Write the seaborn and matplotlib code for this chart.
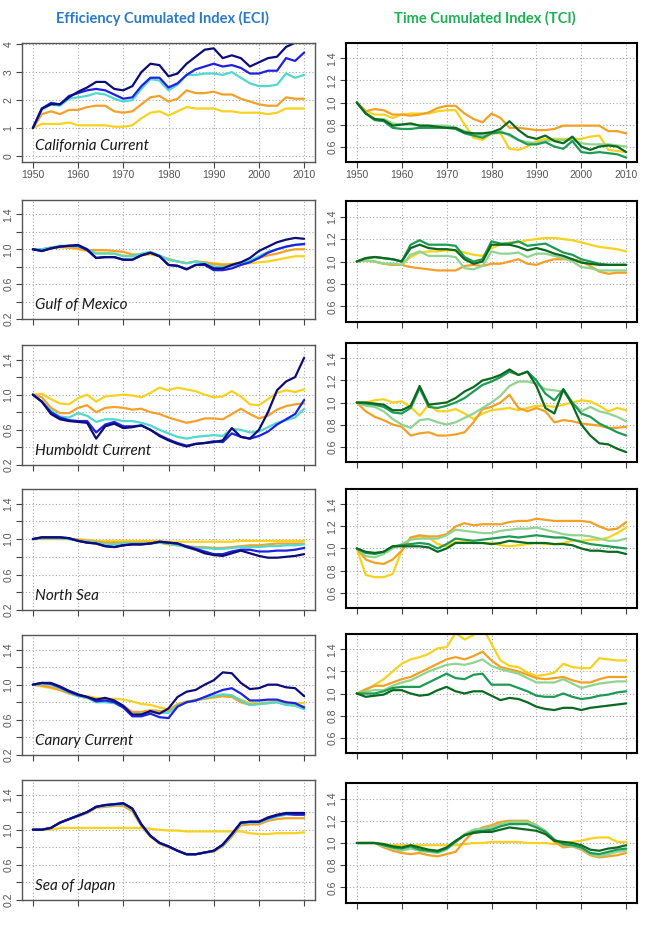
import pandas as pd
import matplotlib
matplotlib.use('Agg')
import matplotlib.pyplot as plt
import seaborn as sns

sns.set_theme(style='white')
plt.rcParams['font.family'] = ['Liberation Sans', 'DejaVu Sans']

years = list(range(1950, 2011, 2))

# ECI: s1 navy, s2 blue, s3 turquoise, s4 orange, s5 gold
# TCI: t1 yellow, t2 orange, t3 light green, t4 green, t5 dark green

# California Current
cal_s1 = [1.0, 1.7, 1.85, 1.85, 2.1, 2.3, 2.45, 2.65, 2.65, 2.4, 2.35, 2.5, 3.0, 3.3, 3.25, 2.85, 2.95, 3.3, 3.55, 3.8, 3.85, 3.5, 3.6, 3.5, 3.2, 3.35, 3.5, 3.55, 3.9, 4.05, 4.35]
cal_s2 = [1.0, 1.7, 1.9, 1.85, 2.15, 2.25, 2.35, 2.4, 2.35, 2.2, 2.05, 2.1, 2.5, 2.8, 2.8, 2.45, 2.6, 2.9, 3.1, 3.2, 3.3, 3.2, 3.25, 3.15, 2.95, 2.95, 3.05, 3.05, 3.5, 3.4, 3.7]
cal_s3 = [1.0, 1.65, 1.85, 1.8, 2.05, 2.1, 2.15, 2.25, 2.2, 2.05, 1.95, 2.0, 2.4, 2.75, 2.7, 2.35, 2.55, 2.9, 2.9, 2.95, 2.95, 2.9, 3.0, 2.8, 2.6, 2.5, 2.5, 2.55, 2.95, 2.8, 2.9]
cal_s4 = [1.0, 1.5, 1.6, 1.5, 1.65, 1.65, 1.75, 1.8, 1.8, 1.6, 1.55, 1.6, 1.85, 2.1, 2.15, 1.95, 2.05, 2.35, 2.25, 2.25, 2.3, 2.2, 2.2, 2.05, 1.95, 1.85, 1.8, 1.8, 2.1, 2.05, 2.05]
cal_s5 = [1.0, 1.15, 1.15, 1.15, 1.2, 1.1, 1.1, 1.1, 1.1, 1.05, 1.05, 1.1, 1.35, 1.55, 1.6, 1.45, 1.6, 1.75, 1.7, 1.7, 1.7, 1.6, 1.6, 1.55, 1.55, 1.55, 1.5, 1.55, 1.7, 1.7, 1.7]
cal_t1 = [1.0, 0.92, 0.89, 0.89, 0.86, 0.89, 0.9, 0.9, 0.9, 0.92, 0.93, 0.93, 0.8, 0.68, 0.66, 0.72, 0.72, 0.58, 0.57, 0.6, 0.65, 0.67, 0.67, 0.67, 0.67, 0.67, 0.69, 0.7, 0.57, 0.56, 0.55]
cal_t2 = [1.0, 0.92, 0.94, 0.93, 0.89, 0.89, 0.88, 0.89, 0.91, 0.95, 0.97, 0.97, 0.9, 0.85, 0.82, 0.9, 0.86, 0.77, 0.77, 0.76, 0.75, 0.75, 0.76, 0.79, 0.79, 0.79, 0.79, 0.79, 0.74, 0.74, 0.72]
cal_t3 = [1.0, 0.9, 0.85, 0.85, 0.81, 0.8, 0.8, 0.79, 0.79, 0.79, 0.79, 0.77, 0.74, 0.72, 0.7, 0.72, 0.74, 0.7, 0.66, 0.64, 0.63, 0.65, 0.66, 0.66, 0.66, 0.63, 0.62, 0.62, 0.62, 0.61, 0.6]
cal_t4 = [1.0, 0.9, 0.84, 0.83, 0.77, 0.76, 0.76, 0.77, 0.77, 0.77, 0.77, 0.76, 0.72, 0.7, 0.68, 0.72, 0.73, 0.71, 0.66, 0.62, 0.62, 0.64, 0.6, 0.58, 0.65, 0.55, 0.54, 0.55, 0.54, 0.53, 0.5]
cal_t5 = [1.0, 0.9, 0.85, 0.84, 0.79, 0.8, 0.81, 0.79, 0.79, 0.78, 0.77, 0.77, 0.73, 0.72, 0.72, 0.73, 0.76, 0.83, 0.75, 0.69, 0.67, 0.7, 0.65, 0.63, 0.69, 0.6, 0.57, 0.6, 0.61, 0.6, 0.55]

# Gulf of Mexico
gom_s1 = [1.0, 0.98, 1.01, 1.03, 1.04, 1.05, 1.0, 0.9, 0.91, 0.91, 0.88, 0.88, 0.93, 0.96, 0.92, 0.82, 0.81, 0.77, 0.82, 0.83, 0.78, 0.78, 0.82, 0.85, 0.9, 0.98, 1.03, 1.08, 1.11, 1.13, 1.12]
gom_s2 = [1.0, 0.98, 1.01, 1.03, 1.04, 1.04, 0.99, 0.9, 0.91, 0.91, 0.88, 0.88, 0.93, 0.96, 0.92, 0.82, 0.81, 0.77, 0.82, 0.82, 0.76, 0.76, 0.78, 0.82, 0.85, 0.9, 0.96, 1.0, 1.03, 1.05, 1.06]
gom_s3 = [1.0, 1.0, 1.02, 1.04, 1.04, 1.03, 1.0, 0.95, 0.95, 0.95, 0.92, 0.92, 0.95, 0.97, 0.93, 0.88, 0.86, 0.84, 0.86, 0.84, 0.8, 0.8, 0.81, 0.84, 0.87, 0.92, 0.97, 1.0, 1.03, 1.05, 1.06]
gom_s4 = [1.0, 1.0, 1.02, 1.03, 1.02, 1.01, 0.99, 0.99, 0.99, 0.98, 0.97, 0.94, 0.94, 0.96, 0.92, 0.89, 0.86, 0.84, 0.86, 0.85, 0.83, 0.82, 0.83, 0.85, 0.86, 0.9, 0.93, 0.95, 0.98, 1.0, 1.0]
gom_s5 = [1.0, 1.0, 1.01, 1.02, 1.02, 1.0, 0.98, 0.96, 0.96, 0.95, 0.93, 0.92, 0.93, 0.94, 0.92, 0.88, 0.86, 0.84, 0.86, 0.85, 0.84, 0.83, 0.82, 0.83, 0.84, 0.85, 0.86, 0.88, 0.9, 0.92, 0.92]
gom_t1 = [1.0, 1.01, 1.0, 0.98, 0.97, 0.97, 1.04, 1.08, 1.09, 1.09, 1.1, 1.1, 1.08, 1.06, 1.05, 1.12, 1.15, 1.17, 1.17, 1.19, 1.2, 1.21, 1.21, 1.2, 1.19, 1.17, 1.15, 1.13, 1.12, 1.11, 1.09]
gom_t2 = [1.0, 1.01, 1.0, 0.98, 0.97, 0.97, 0.95, 0.94, 0.93, 0.92, 0.92, 0.92, 0.96, 0.97, 0.96, 0.98, 0.98, 1.0, 1.02, 0.98, 0.97, 1.0, 1.02, 1.02, 1.02, 1.0, 0.96, 0.91, 0.89, 0.9, 0.9]
gom_t3 = [1.0, 1.01, 1.0, 0.98, 0.98, 0.97, 1.06, 1.09, 1.05, 1.05, 1.05, 1.04, 0.94, 0.93, 0.96, 1.09, 1.07, 1.07, 1.08, 1.04, 1.07, 1.07, 1.05, 1.03, 1.0, 0.95, 0.94, 0.92, 0.92, 0.92, 0.92]
gom_t4 = [1.0, 1.03, 1.04, 1.03, 1.02, 1.0, 1.15, 1.19, 1.15, 1.15, 1.15, 1.14, 1.04, 1.0, 1.02, 1.18, 1.16, 1.16, 1.18, 1.14, 1.15, 1.16, 1.12, 1.08, 1.06, 1.02, 1.0, 0.98, 0.97, 0.97, 0.97]
gom_t5 = [1.0, 1.03, 1.04, 1.03, 1.02, 1.0, 1.12, 1.15, 1.12, 1.11, 1.11, 1.1, 1.02, 0.98, 1.0, 1.15, 1.15, 1.15, 1.13, 1.1, 1.12, 1.1, 1.07, 1.05, 1.02, 0.99, 0.98, 0.97, 0.97, 0.97, 0.97]

# Humboldt Current
hum_s1 = [1.0, 0.92, 0.78, 0.72, 0.7, 0.69, 0.68, 0.5, 0.64, 0.67, 0.62, 0.63, 0.65, 0.6, 0.53, 0.48, 0.44, 0.41, 0.44, 0.45, 0.46, 0.48, 0.62, 0.52, 0.5, 0.6, 0.8, 1.05, 1.15, 1.2, 1.42]
hum_s2 = [1.0, 0.92, 0.8, 0.74, 0.71, 0.7, 0.7, 0.57, 0.66, 0.69, 0.64, 0.64, 0.65, 0.6, 0.54, 0.49, 0.45, 0.42, 0.44, 0.45, 0.47, 0.46, 0.56, 0.52, 0.5, 0.53, 0.58, 0.66, 0.72, 0.78, 0.94]
hum_s3 = [1.0, 0.92, 0.82, 0.75, 0.74, 0.79, 0.76, 0.69, 0.72, 0.72, 0.7, 0.7, 0.68, 0.65, 0.6, 0.56, 0.52, 0.5, 0.52, 0.53, 0.54, 0.53, 0.61, 0.6, 0.57, 0.58, 0.63, 0.68, 0.71, 0.74, 0.84]
hum_s4 = [1.0, 0.97, 0.85, 0.79, 0.79, 0.85, 0.88, 0.8, 0.85, 0.86, 0.85, 0.83, 0.84, 0.8, 0.78, 0.74, 0.71, 0.68, 0.7, 0.73, 0.73, 0.72, 0.78, 0.84, 0.78, 0.73, 0.76, 0.83, 0.87, 0.89, 0.9]
hum_s5 = [1.0, 1.01, 0.95, 0.9, 0.89, 0.96, 1.0, 0.92, 0.98, 0.99, 1.0, 0.99, 0.97, 1.02, 1.08, 1.05, 1.08, 1.06, 1.04, 1.0, 0.97, 0.98, 1.04, 0.98, 0.89, 0.88, 0.95, 1.02, 1.05, 1.03, 1.06]
hum_t1 = [1.0, 1.0, 1.02, 1.03, 1.0, 1.01, 0.96, 0.88, 0.98, 0.92, 0.92, 0.94, 0.9, 0.85, 0.9, 0.93, 0.94, 0.95, 0.93, 0.95, 0.97, 0.97, 0.96, 0.98, 1.0, 1.02, 1.01, 0.97, 0.92, 0.95, 0.93]
hum_t2 = [1.0, 0.92, 0.87, 0.84, 0.8, 0.78, 0.7, 0.72, 0.73, 0.7, 0.7, 0.71, 0.73, 0.82, 0.94, 0.96, 1.0, 1.07, 0.95, 0.92, 0.95, 0.92, 0.82, 0.84, 0.83, 0.81, 0.8, 0.79, 0.77, 0.77, 0.78]
hum_t3 = [1.0, 0.97, 0.96, 0.92, 0.85, 0.8, 0.77, 0.84, 0.85, 0.82, 0.8, 0.82, 0.86, 0.9, 0.95, 1.0, 1.06, 1.15, 1.19, 1.19, 1.17, 1.12, 1.11, 1.1, 1.0, 0.92, 0.96, 0.92, 0.9, 0.87, 0.83]
hum_t4 = [1.0, 0.99, 0.98, 0.96, 0.91, 0.9, 0.95, 1.13, 0.96, 0.95, 0.97, 1.0, 1.04, 1.1, 1.16, 1.19, 1.23, 1.28, 1.25, 1.28, 1.2, 1.08, 1.02, 1.12, 1.0, 0.9, 0.87, 0.81, 0.77, 0.73, 0.7]
hum_t5 = [1.0, 1.0, 0.99, 0.98, 0.93, 0.93, 0.97, 1.15, 0.98, 0.99, 1.0, 1.04, 1.1, 1.14, 1.2, 1.22, 1.25, 1.3, 1.25, 1.28, 1.15, 0.95, 0.9, 1.12, 0.98, 0.8, 0.7, 0.63, 0.62, 0.58, 0.55]

# North Sea
nsea_s1 = [1.0, 1.02, 1.02, 1.02, 1.01, 0.98, 0.96, 0.95, 0.92, 0.91, 0.93, 0.94, 0.94, 0.95, 0.97, 0.96, 0.95, 0.91, 0.88, 0.84, 0.82, 0.81, 0.84, 0.87, 0.84, 0.81, 0.79, 0.79, 0.8, 0.81, 0.83]
nsea_s2 = [1.0, 1.02, 1.02, 1.02, 1.01, 0.98, 0.96, 0.95, 0.92, 0.91, 0.93, 0.94, 0.94, 0.95, 0.97, 0.96, 0.95, 0.92, 0.89, 0.86, 0.83, 0.83, 0.86, 0.88, 0.88, 0.86, 0.86, 0.87, 0.87, 0.88, 0.9]
nsea_s3 = [1.0, 1.01, 1.01, 1.01, 1.0, 0.98, 0.97, 0.96, 0.94, 0.94, 0.95, 0.95, 0.95, 0.95, 0.96, 0.95, 0.93, 0.91, 0.9, 0.9, 0.89, 0.89, 0.9, 0.91, 0.91, 0.91, 0.92, 0.92, 0.93, 0.93, 0.94]
nsea_s4 = [1.0, 1.01, 1.01, 1.01, 1.0, 0.99, 0.98, 0.97, 0.96, 0.96, 0.96, 0.96, 0.96, 0.96, 0.96, 0.94, 0.93, 0.92, 0.91, 0.91, 0.9, 0.9, 0.91, 0.92, 0.93, 0.93, 0.94, 0.95, 0.95, 0.95, 0.95]
nsea_s5 = [1.0, 1.0, 1.0, 1.0, 1.0, 1.0, 0.99, 0.98, 0.98, 0.98, 0.98, 0.98, 0.98, 0.98, 0.98, 0.97, 0.97, 0.97, 0.97, 0.97, 0.97, 0.97, 0.97, 0.98, 0.98, 0.98, 0.98, 0.98, 0.98, 0.98, 0.98]
nsea_t1 = [1.0, 0.76, 0.74, 0.74, 0.77, 0.98, 1.1, 1.11, 1.1, 1.04, 1.02, 1.06, 1.06, 1.05, 1.05, 1.05, 1.03, 1.02, 1.03, 1.04, 1.05, 1.04, 1.04, 1.05, 1.07, 1.07, 1.08, 1.08, 1.1, 1.14, 1.19]
nsea_t2 = [1.0, 0.9, 0.87, 0.86, 0.9, 0.98, 1.1, 1.12, 1.11, 1.11, 1.13, 1.2, 1.23, 1.21, 1.22, 1.22, 1.22, 1.24, 1.25, 1.25, 1.27, 1.26, 1.25, 1.25, 1.25, 1.25, 1.24, 1.2, 1.17, 1.18, 1.24]
nsea_t3 = [1.0, 0.93, 0.92, 0.95, 1.0, 1.04, 1.08, 1.09, 1.09, 1.09, 1.12, 1.17, 1.16, 1.15, 1.14, 1.14, 1.16, 1.17, 1.18, 1.18, 1.19, 1.17, 1.15, 1.13, 1.12, 1.12, 1.11, 1.09, 1.07, 1.07, 1.09]
nsea_t4 = [1.0, 0.96, 0.95, 0.97, 1.02, 1.03, 1.04, 1.05, 1.04, 1.0, 1.04, 1.09, 1.08, 1.07, 1.08, 1.09, 1.1, 1.11, 1.1, 1.11, 1.12, 1.11, 1.1, 1.1, 1.08, 1.06, 1.04, 1.03, 1.02, 1.01, 1.0]
nsea_t5 = [1.0, 0.97, 0.96, 0.97, 1.02, 1.02, 1.02, 1.02, 1.01, 0.97, 1.0, 1.05, 1.05, 1.05, 1.05, 1.04, 1.05, 1.07, 1.06, 1.05, 1.05, 1.05, 1.04, 1.04, 1.03, 1.0, 0.98, 0.98, 0.97, 0.97, 0.95]

# Canary Current
can_s1 = [1.0, 1.02, 1.02, 0.98, 0.93, 0.89, 0.86, 0.83, 0.85, 0.82, 0.76, 0.66, 0.66, 0.7, 0.67, 0.73, 0.86, 0.92, 0.94, 1.0, 1.05, 1.14, 1.13, 1.02, 0.95, 0.96, 1.0, 1.0, 0.97, 0.96, 0.87]
can_s2 = [1.0, 1.02, 1.01, 0.97, 0.92, 0.88, 0.86, 0.81, 0.82, 0.8, 0.74, 0.64, 0.64, 0.67, 0.63, 0.62, 0.75, 0.8, 0.82, 0.86, 0.9, 0.94, 0.96, 0.9, 0.82, 0.82, 0.83, 0.83, 0.8, 0.79, 0.74]
can_s3 = [1.0, 1.01, 1.0, 0.96, 0.91, 0.87, 0.85, 0.8, 0.8, 0.79, 0.74, 0.66, 0.67, 0.69, 0.68, 0.68, 0.76, 0.8, 0.82, 0.85, 0.87, 0.89, 0.88, 0.82, 0.77, 0.78, 0.79, 0.8, 0.77, 0.76, 0.72]
can_s4 = [1.0, 0.99, 0.97, 0.94, 0.9, 0.87, 0.85, 0.83, 0.82, 0.81, 0.76, 0.69, 0.69, 0.71, 0.7, 0.7, 0.77, 0.81, 0.82, 0.84, 0.86, 0.87, 0.86, 0.8, 0.77, 0.78, 0.79, 0.8, 0.77, 0.77, 0.75]
can_s5 = [1.0, 0.98, 0.96, 0.94, 0.9, 0.88, 0.87, 0.85, 0.84, 0.84, 0.83, 0.81, 0.78, 0.77, 0.74, 0.72, 0.78, 0.8, 0.83, 0.84, 0.85, 0.87, 0.86, 0.83, 0.79, 0.79, 0.8, 0.81, 0.79, 0.79, 0.79]
can_t1 = [1.0, 1.03, 1.08, 1.13, 1.2, 1.27, 1.31, 1.33, 1.36, 1.41, 1.42, 1.55, 1.49, 1.53, 1.6, 1.45, 1.3, 1.25, 1.24, 1.19, 1.16, 1.17, 1.19, 1.27, 1.24, 1.23, 1.23, 1.32, 1.31, 1.3, 1.3]
can_t2 = [1.0, 1.04, 1.07, 1.07, 1.1, 1.13, 1.15, 1.19, 1.23, 1.27, 1.31, 1.33, 1.31, 1.34, 1.38, 1.3, 1.24, 1.22, 1.2, 1.17, 1.14, 1.13, 1.14, 1.15, 1.12, 1.1, 1.1, 1.13, 1.15, 1.15, 1.15]
can_t3 = [1.0, 1.02, 1.03, 1.03, 1.07, 1.1, 1.12, 1.16, 1.2, 1.23, 1.26, 1.27, 1.26, 1.28, 1.31, 1.25, 1.22, 1.2, 1.18, 1.14, 1.1, 1.1, 1.1, 1.13, 1.09, 1.05, 1.07, 1.09, 1.1, 1.11, 1.11]
can_t4 = [1.0, 1.0, 1.0, 1.02, 1.05, 1.06, 1.06, 1.06, 1.1, 1.14, 1.18, 1.14, 1.13, 1.17, 1.18, 1.08, 1.08, 1.08, 1.05, 1.02, 0.98, 0.97, 0.97, 1.0, 0.97, 0.95, 0.96, 0.98, 0.99, 1.01, 1.02]
can_t5 = [1.0, 0.97, 0.98, 0.99, 1.03, 1.03, 1.0, 0.98, 0.99, 1.03, 1.06, 1.02, 1.0, 1.02, 1.02, 0.98, 0.94, 0.96, 0.95, 0.92, 0.88, 0.86, 0.85, 0.87, 0.87, 0.85, 0.87, 0.88, 0.89, 0.9, 0.91]

# Sea of Japan
soj_s1 = [1.0, 1.0, 1.02, 1.08, 1.12, 1.16, 1.2, 1.26, 1.28, 1.29, 1.3, 1.24, 1.06, 0.93, 0.85, 0.81, 0.76, 0.72, 0.72, 0.74, 0.76, 0.83, 0.95, 1.08, 1.09, 1.09, 1.14, 1.17, 1.19, 1.19, 1.19]
soj_s2 = [1.0, 1.0, 1.02, 1.08, 1.12, 1.16, 1.2, 1.26, 1.28, 1.29, 1.3, 1.24, 1.06, 0.93, 0.85, 0.81, 0.76, 0.72, 0.72, 0.74, 0.76, 0.83, 0.95, 1.08, 1.09, 1.09, 1.13, 1.16, 1.18, 1.17, 1.17]
soj_s3 = [1.0, 1.0, 1.02, 1.08, 1.12, 1.16, 1.2, 1.26, 1.27, 1.28, 1.29, 1.23, 1.05, 0.93, 0.85, 0.81, 0.76, 0.72, 0.72, 0.74, 0.76, 0.82, 0.94, 1.07, 1.08, 1.08, 1.12, 1.15, 1.17, 1.17, 1.17]
soj_s4 = [1.0, 1.0, 1.02, 1.08, 1.12, 1.15, 1.19, 1.25, 1.26, 1.27, 1.27, 1.21, 1.04, 0.92, 0.84, 0.8, 0.76, 0.72, 0.72, 0.74, 0.75, 0.81, 0.92, 1.05, 1.06, 1.06, 1.1, 1.12, 1.13, 1.13, 1.13]
soj_s5 = [1.0, 1.0, 1.0, 1.02, 1.02, 1.02, 1.02, 1.02, 1.02, 1.02, 1.02, 1.02, 1.02, 1.01, 1.0, 0.99, 0.99, 0.98, 0.98, 0.98, 0.98, 0.98, 0.98, 0.98, 0.96, 0.95, 0.95, 0.96, 0.96, 0.96, 0.97]
soj_t1 = [1.0, 1.0, 1.0, 0.99, 0.98, 0.98, 0.98, 0.98, 0.98, 0.98, 0.98, 0.98, 0.99, 1.0, 1.0, 1.01, 1.01, 1.01, 1.01, 1.0, 1.0, 1.0, 0.99, 1.0, 1.01, 1.02, 1.04, 1.05, 1.05, 1.01, 1.01]
soj_t2 = [1.0, 1.0, 1.0, 0.96, 0.93, 0.91, 0.9, 0.91, 0.89, 0.88, 0.9, 0.92, 1.02, 1.1, 1.14, 1.16, 1.19, 1.2, 1.2, 1.2, 1.16, 1.1, 1.01, 0.96, 0.97, 0.94, 0.89, 0.87, 0.88, 0.89, 0.91]
soj_t3 = [1.0, 1.0, 1.0, 0.97, 0.95, 0.93, 0.95, 0.93, 0.92, 0.91, 0.94, 1.01, 1.08, 1.12, 1.13, 1.14, 1.17, 1.19, 1.19, 1.19, 1.16, 1.11, 1.03, 0.98, 0.97, 0.95, 0.9, 0.88, 0.9, 0.92, 0.93]
soj_t4 = [1.0, 1.0, 1.0, 0.98, 0.96, 0.95, 0.97, 0.94, 0.93, 0.92, 0.95, 1.01, 1.07, 1.1, 1.11, 1.12, 1.15, 1.17, 1.17, 1.17, 1.14, 1.1, 1.03, 0.99, 0.98, 0.96, 0.91, 0.9, 0.92, 0.94, 0.95]
soj_t5 = [1.0, 1.0, 1.0, 0.99, 0.97, 0.96, 0.98, 0.96, 0.94, 0.93, 0.96, 1.02, 1.07, 1.09, 1.1, 1.1, 1.12, 1.14, 1.13, 1.12, 1.11, 1.08, 1.02, 1.01, 1.0, 0.98, 0.94, 0.93, 0.95, 0.96, 0.98]

regions = ['California Current', 'Gulf of Mexico', 'Humboldt Current',
           'North Sea', 'Canary Current', 'Sea of Japan']
eci_data = [
    [cal_s1, cal_s2, cal_s3, cal_s4, cal_s5],
    [gom_s1, gom_s2, gom_s3, gom_s4, gom_s5],
    [hum_s1, hum_s2, hum_s3, hum_s4, hum_s5],
    [nsea_s1, nsea_s2, nsea_s3, nsea_s4, nsea_s5],
    [can_s1, can_s2, can_s3, can_s4, can_s5],
    [soj_s1, soj_s2, soj_s3, soj_s4, soj_s5],
]
tci_data = [
    [cal_t1, cal_t2, cal_t3, cal_t4, cal_t5],
    [gom_t1, gom_t2, gom_t3, gom_t4, gom_t5],
    [hum_t1, hum_t2, hum_t3, hum_t4, hum_t5],
    [nsea_t1, nsea_t2, nsea_t3, nsea_t4, nsea_t5],
    [can_t1, can_t2, can_t3, can_t4, can_t5],
    [soj_t1, soj_t2, soj_t3, soj_t4, soj_t5],
]

eci_names = ['s1', 's2', 's3', 's4', 's5']
tci_names = ['t1', 't2', 't3', 't4', 't5']
eci_colors = {'s1': '#0c0c7a', 's2': '#1e22e0', 's3': '#4fd9cf',
              's4': '#f4a12a', 's5': '#f7d21e'}
tci_colors = {'t1': '#f7d21e', 't2': '#f2a126', 't3': '#8fd490',
              't4': '#1e9a55', 't5': '#0b6a1f'}


def long_df(series, names):
    parts = []
    for name, vals in zip(names, series):
        parts.append(pd.DataFrame({'year': years, 'value': vals, 'series': name}))
    return pd.concat(parts, ignore_index=True)


# panel boxes in pixels (top, bottom)
left_rows = [(43, 162), (200, 319), (345, 465), (489, 610), (635, 755), (780, 900)]
right_rows = [(43, 162), (201, 322), (343, 462), (489, 608), (634, 753), (783, 903)]
W, H = 645, 925

fig = plt.figure(figsize=(6.45, 9.25), dpi=100)


def style_ax(ax, first_row, right):
    ax.set_xlim(1947.6, 2012.4)
    ax.set_xticks(range(1950, 2011, 10))
    if first_row:
        ax.set_xticklabels([str(y) for y in range(1950, 2011, 10)])
    else:
        ax.set_xticklabels([])
    ax.grid(True, color='#a8a8a8', linestyle=(0, (1, 2)), linewidth=0.8)
    ax.set_axisbelow(True)
    ax.tick_params(direction='out', length=4, width=0.8, colors='#444444',
                   labelsize=7.5, bottom=True, left=True, pad=2)
    ax.tick_params(labelcolor='#555555')
    ax.set_xlabel('')
    ax.set_ylabel('')
    for sp in ax.spines.values():
        sp.set_visible(True)
        if right:
            sp.set_color('black')
            sp.set_linewidth(1.5)
        else:
            sp.set_color('#555555')
            sp.set_linewidth(1.0)
    plt.setp(ax.get_yticklabels(), rotation=90, va='center')


for i in range(6):
    # ECI panel
    top, bot = left_rows[i]
    ax = fig.add_axes([22 / W, 1 - bot / H, (315 - 22) / W, (bot - top) / H])
    df = long_df(eci_data[i], eci_names)
    sns.lineplot(data=df, x='year', y='value', hue='series',
                 hue_order=eci_names[::-1], palette=eci_colors,
                 linewidth=1.6, legend=False, ax=ax)
    if i == 0:
        ax.set_ylim(-0.21, 4.04)
        ax.set_yticks([0, 1, 2, 3, 4])
        ax.set_yticklabels(['0', '1', '2', '3', '4'])
        ax.text(0.044, 0.134, regions[i], transform=ax.transAxes, fontsize=11,
                style='italic', family='Lato', color='#1a1a1a', va='center')
    else:
        ax.set_ylim(0.2, 1.565)
        ax.set_yticks([0.2, 0.4, 0.6, 0.8, 1.0, 1.2, 1.4])
        ax.set_yticklabels(['0.2', '', '0.6', '', '1.0', '', '1.4'])
        ax.text(0.044, 0.115, regions[i], transform=ax.transAxes, fontsize=11,
                style='italic', family='Lato', color='#1a1a1a', va='center')
    style_ax(ax, i == 0, False)

    # TCI panel
    top, bot = right_rows[i]
    ax = fig.add_axes([346 / W, 1 - bot / H, (637 - 346) / W, (bot - top) / H])
    df = long_df(tci_data[i], tci_names)
    sns.lineplot(data=df, x='year', y='value', hue='series',
                 hue_order=tci_names, palette=tci_colors,
                 linewidth=1.6, legend=False, ax=ax)
    ax.set_ylim(0.46, 1.54)
    ax.set_yticks([0.6, 0.8, 1.0, 1.2, 1.4])
    ax.set_yticklabels(['0.6', '0.8', '1.0', '1.2', '1.4'])
    style_ax(ax, i == 0, True)

fig.text(162 / W, 1 - 18 / H, 'Efficiency Cumulated Index (ECI)', ha='center',
         va='center', fontsize=10.5, fontweight='bold', family='Lato', color='#2a7ac6')
fig.text(485 / W, 1 - 18 / H, 'Time Cumulated Index (TCI)', ha='center',
         va='center', fontsize=10.5, fontweight='bold', family='Lato', color='#1fb055')

fig.savefig('out.png', dpi=100)
